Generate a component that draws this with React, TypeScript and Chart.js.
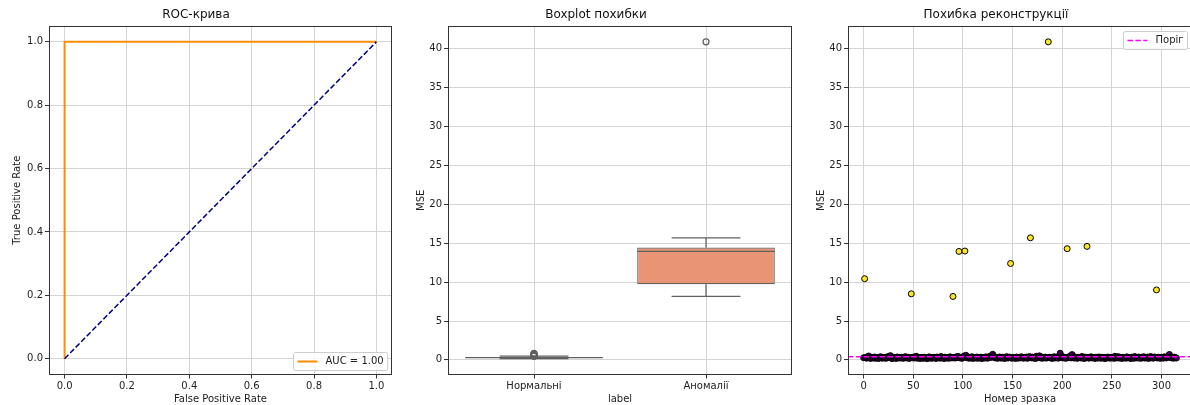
import React, { useEffect, useRef } from "react";
import { Chart, registerables } from "chart.js";

Chart.register(...registerables);

const FONT = "'DejaVu Sans', 'Liberation Sans', sans-serif";
const TEXT = "#222222";
const GRID = "#d4d4d4";
const SPINE = "#333333";
const BOX_LINE = "#606060";

// ---------- ROC panel ----------
const rocFpr = [0, 0, 1];
const rocTpr = [0, 1, 1];
const chanceFpr = [0, 1];
const chanceTpr = [0, 1];
const rocAuc = 1.0;
const rocTicks = [0, 0.2, 0.4, 0.6, 0.8, 1.0];

// ---------- Boxplot / scatter panels ----------
const groupLabels = ["Нормальні", "Аномалії"];
const groupColors = ["#71b7a1", "#e99575"];
const mseTicks = [0, 5, 10, 15, 20, 25, 30, 35, 40];
const sampleTicks = [0, 50, 100, 150, 200, 250, 300];
const anomalyIndex = [1, 48, 90, 96, 102, 148, 168, 186, 205, 225, 295];
const threshold = 0.4;
const reconErrors = [
  0.28, 10.44, 0.31, 0.22, 0.35, 0.5, 0.26, 0.19, 0.33, 0.29,
  0.24, 0.37, 0.21, 0.3, 0.27, 0.18, 0.34, 0.41, 0.25, 0.23,
  0.32, 0.28, 0.2, 0.36, 0.26, 0.44, 0.3, 0.55, 0.22, 0.17,
  0.29, 0.33, 0.24, 0.19, 0.38, 0.27, 0.31, 0.23, 0.35, 0.26,
  0.21, 0.3, 0.42, 0.25, 0.28, 0.34, 0.19, 0.32, 8.5, 0.27,
  0.36, 0.24, 0.29, 0.47, 0.22, 0.31, 0.26, 0.18, 0.33, 0.28,
  0.2, 0.35, 0.25, 0.3, 0.16, 0.27, 0.39, 0.23, 0.32, 0.21,
  0.29, 0.34, 0.24, 0.19, 0.37, 0.28, 0.31, 0.22, 0.43, 0.26,
  0.3, 0.18, 0.35, 0.27, 0.24, 0.33, 0.21, 0.4, 0.29, 0.25,
  8.16, 0.32, 0.23, 0.38, 0.28, 0.45, 13.95, 0.26, 0.34, 0.2,
  0.31, 0.48, 14.0, 0.6, 0.27, 0.36, 0.22, 0.3, 0.25, 0.41,
  0.19, 0.33, 0.28, 0.24, 0.37, 0.21, 0.3, 0.26, 0.35, 0.17,
  0.29, 0.32, 0.23, 0.39, 0.27, 0.22, 0.34, 0.46, 0.31, 0.52,
  0.72, 0.44, 0.28, 0.25, 0.33, 0.2, 0.3, 0.38, 0.26, 0.23,
  0.35, 0.29, 0.18, 0.31, 0.42, 0.24, 0.27, 0.36, 12.4, 0.21,
  0.32, 0.26, 0.3, 0.19, 0.37, 0.28, 0.23, 0.34, 0.25, 0.4,
  0.29, 0.22, 0.33, 0.27, 0.36, 0.2, 0.31, 0.43, 15.7, 0.26,
  0.35, 0.24, 0.3, 0.18, 0.47, 0.28, 0.33, 0.52, 0.25, 0.38,
  0.21, 0.31, 0.27, 0.36, 0.23, 0.29, 40.9, 0.34, 0.26, 0.32,
  0.19, 0.3, 0.41, 0.25, 0.28, 0.37, 0.22, 0.45, 0.85, 0.33,
  0.27, 0.39, 0.24, 0.3, 0.21, 14.3, 0.35, 0.28, 0.49, 0.26,
  0.68, 0.32, 0.23, 0.37, 0.29, 0.2, 0.34, 0.27, 0.31, 0.24,
  0.44, 0.3, 0.18, 0.36, 0.26, 14.6, 0.33, 0.22, 0.29, 0.4,
  0.25, 0.31, 0.27, 0.19, 0.35, 0.28, 0.23, 0.38, 0.3, 0.21,
  0.34, 0.26, 0.29, 0.17, 0.32, 0.24, 0.37, 0.28, 0.22, 0.33,
  0.27, 0.3, 0.2, 0.46, 0.25, 0.31, 0.42, 0.23, 0.36, 0.28,
  0.19, 0.34, 0.26, 0.3, 0.22, 0.39, 0.27, 0.32, 0.24, 0.18,
  0.35, 0.29, 0.21, 0.43, 0.26, 0.31, 0.24, 0.37, 0.28, 0.2,
  0.33, 0.27, 0.41, 0.23, 0.3, 0.25, 0.36, 0.19, 0.32, 0.44,
  0.26, 0.29, 0.22, 0.38, 0.31, 9.0, 0.24, 0.35, 0.27, 0.2,
  0.34, 0.28, 0.23, 0.4, 0.3, 0.25, 0.37, 0.52, 0.7, 0.33,
  0.26, 0.31, 0.22, 0.36, 0.28, 0.24,
];

// ---------- helpers ----------
function quantile(sorted: number[], p: number) {
  const pos = (sorted.length - 1) * p;
  const lo = Math.floor(pos);
  const hi = Math.ceil(pos);
  return sorted[lo] + (sorted[hi] - sorted[lo]) * (pos - lo);
}

function boxStats(vals: number[]) {
  const s = [...vals].sort((a, b) => a - b);
  const q1 = quantile(s, 0.25);
  const med = quantile(s, 0.5);
  const q3 = quantile(s, 0.75);
  const iqr = q3 - q1;
  const inside = s.filter((v) => v >= q1 - 1.5 * iqr && v <= q3 + 1.5 * iqr);
  const lo = inside[0];
  const hi = inside[inside.length - 1];
  const fliers = s.filter((v) => v < lo || v > hi);
  return { q1, med, q3, lo, hi, fliers };
}

const isAnomaly = reconErrors.map((_, i) => anomalyIndex.includes(i));
const normalVals = reconErrors.filter((_, i) => !isAnomaly[i]);
const anomalyVals = reconErrors.filter((_, i) => isAnomaly[i]);
const groupStats = [boxStats(normalVals), boxStats(anomalyVals)];

const errMin = Math.min(...reconErrors);
const errMax = Math.max(...reconErrors);
const errPad = (errMax - errMin) * 0.05;
const yMin = errMin - errPad;
const yMax = errMax + errPad;
const xLast = reconErrors.length - 1;

const tickFont = { family: FONT, size: 10 };

function linearAxis(
  min: number, max: number, ticks: number[], fmt: (v: number) => string,
  title: string, isX: boolean, size: number, titlePad: any
) {
  return {
    type: "linear",
    min,
    max,
    afterBuildTicks: (s: any) => {
      s.ticks = ticks.map((v) => ({ value: v }));
    },
    afterFit: (s: any) => {
      if (isX) s.height = size;
      else s.width = size;
    },
    ticks: {
      callback: (v: any) => fmt(Number(v)),
      color: TEXT,
      font: tickFont,
      padding: 2,
      maxRotation: 0,
      autoSkip: false,
    },
    grid: { color: GRID, lineWidth: 1, drawTicks: true, tickLength: 4, tickColor: SPINE, tickWidth: 1 },
    border: { display: false },
    title: { display: true, text: title, color: TEXT, font: tickFont, padding: titlePad },
  };
}

const framePlugin = {
  id: "frame",
  afterDatasetsDraw(chart: any) {
    const { ctx, chartArea } = chart;
    const l = Math.round(chartArea.left) + 0.5;
    const t = Math.round(chartArea.top) + 0.5;
    const r = Math.round(chartArea.right) - 0.5;
    const b = Math.round(chartArea.bottom) - 0.5;
    ctx.save();
    ctx.strokeStyle = SPINE;
    ctx.lineWidth = 1;
    ctx.setLineDash([]);
    ctx.strokeRect(l, t, r - l, b - t);
    ctx.restore();
  },
};

type LegendItem = { color: string; width: number; dash: number[]; text: string };

function boxLegend(pos: "upper right" | "lower right", items: LegendItem[]) {
  return {
    id: "boxLegend",
    afterDraw(chart: any) {
      const { ctx, chartArea } = chart;
      ctx.save();
      ctx.font = `10px ${FONT}`;
      const textW = Math.max(...items.map((it) => ctx.measureText(it.text).width));
      const pad = 4;
      const handle = 20;
      const gap = 8;
      const rowH = 13;
      const w = pad + handle + gap + textW + pad;
      const h = 5 + rowH * items.length;
      const x = Math.round(chartArea.right - 5 - w) + 0.5;
      const y =
        pos === "upper right"
          ? Math.round(chartArea.top + 5) + 0.5
          : Math.round(chartArea.bottom - 5 - h) + 0.5;
      ctx.beginPath();
      const rr = 2;
      ctx.moveTo(x + rr, y);
      ctx.lineTo(x + w - rr, y);
      ctx.quadraticCurveTo(x + w, y, x + w, y + rr);
      ctx.lineTo(x + w, y + h - rr);
      ctx.quadraticCurveTo(x + w, y + h, x + w - rr, y + h);
      ctx.lineTo(x + rr, y + h);
      ctx.quadraticCurveTo(x, y + h, x, y + h - rr);
      ctx.lineTo(x, y + rr);
      ctx.quadraticCurveTo(x, y, x + rr, y);
      ctx.closePath();
      ctx.fillStyle = "rgba(255,255,255,0.8)";
      ctx.fill();
      ctx.strokeStyle = "#cccccc";
      ctx.lineWidth = 1;
      ctx.stroke();
      items.forEach((it, i) => {
        const cy = y + 2.5 + rowH * i + rowH / 2;
        ctx.beginPath();
        ctx.setLineDash(it.dash);
        ctx.strokeStyle = it.color;
        ctx.lineWidth = it.width;
        ctx.moveTo(x + pad, cy);
        ctx.lineTo(x + pad + handle, cy);
        ctx.stroke();
        ctx.setLineDash([]);
        ctx.fillStyle = TEXT;
        ctx.textBaseline = "middle";
        ctx.textAlign = "left";
        ctx.fillText(it.text, x + pad + handle + gap, cy);
      });
      ctx.restore();
    },
  };
}

const boxWhiskerPlugin = {
  id: "boxWhisker",
  afterDatasetsDraw(chart: any) {
    const { ctx } = chart;
    const ys = chart.scales.y;
    const meta = chart.getDatasetMeta(0);
    const py = (v: number) => ys.getPixelForValue(v);
    ctx.save();
    ctx.strokeStyle = BOX_LINE;
    ctx.lineWidth = 1.25;
    const line = (x1: number, y1: number, x2: number, y2: number) => {
      ctx.beginPath();
      ctx.moveTo(x1, y1);
      ctx.lineTo(x2, y2);
      ctx.stroke();
    };
    groupStats.forEach((st, i) => {
      const el = meta.data[i];
      const cx = el.x;
      const half = el.width / 2;
      const capHalf = half / 2;
      line(cx, py(st.q1), cx, py(st.lo));
      line(cx, py(st.q3), cx, py(st.hi));
      line(cx - capHalf, py(st.lo), cx + capHalf, py(st.lo));
      line(cx - capHalf, py(st.hi), cx + capHalf, py(st.hi));
      line(cx - half, py(st.med), cx + half, py(st.med));
      st.fliers.forEach((v) => {
        ctx.beginPath();
        ctx.arc(cx, py(v), 3, 0, Math.PI * 2);
        ctx.stroke();
      });
    });
    ctx.restore();
  },
};

const thresholdPlugin = {
  id: "thresholdLine",
  afterDatasetsDraw(chart: any) {
    const { ctx, chartArea } = chart;
    const y = chart.scales.y.getPixelForValue(threshold);
    ctx.save();
    ctx.strokeStyle = "#ff00ff";
    ctx.lineWidth = 1.5;
    ctx.setLineDash([5.5, 2.4]);
    ctx.beginPath();
    ctx.moveTo(chartArea.left, y);
    ctx.lineTo(chartArea.right, y);
    ctx.stroke();
    ctx.restore();
  },
};

function titleOpts(text: string) {
  return {
    display: true,
    text,
    color: "#111111",
    font: { family: FONT, size: 12, weight: "normal" as const },
    padding: { top: 8, bottom: 3.6 },
  };
}

const X_AXIS_H = 30.5;

function buildRoc(canvas: HTMLCanvasElement) {
  return new Chart(canvas, {
    type: "scatter",
    data: {
      datasets: [
        {
          data: chanceFpr.map((x, i) => ({ x, y: chanceTpr[i] })),
          showLine: true,
          borderColor: "#000080",
          borderWidth: 1.5,
          borderDash: [5.5, 2.4],
          pointRadius: 0,
          order: 0,
        },
        {
          data: rocFpr.map((x, i) => ({ x, y: rocTpr[i] })),
          showLine: true,
          borderColor: "#ff8c00",
          borderWidth: 2,
          pointRadius: 0,
          order: 1,
        },
      ],
    },
    options: {
      animation: false,
      responsive: false,
      devicePixelRatio: 1,
      layout: { padding: { left: 0, right: 8, top: 0, bottom: 0 } },
      plugins: { legend: { display: false }, tooltip: { enabled: false }, title: titleOpts("ROC-крива") },
      scales: {
        x: linearAxis(-0.05, 1.05, rocTicks, (v) => v.toFixed(1), "False Positive Rate", true, X_AXIS_H, { top: 0, bottom: 0 }),
        y: linearAxis(-0.05, 1.05, rocTicks, (v) => v.toFixed(1), "True Positive Rate", false, 49, { top: 11, bottom: 0 }),
      },
    } as any,
    plugins: [
      framePlugin,
      boxLegend("lower right", [{ color: "#ff8c00", width: 2, dash: [], text: `AUC = ${rocAuc.toFixed(2)}` }]),
    ],
  });
}

function buildBox(canvas: HTMLCanvasElement) {
  return new Chart(canvas, {
    type: "bar",
    data: {
      labels: groupLabels,
      datasets: [
        {
          data: groupStats.map((s) => [s.q1, s.q3]),
          backgroundColor: groupColors,
          borderColor: BOX_LINE,
          borderWidth: 1.25,
          borderSkipped: false,
          barPercentage: 0.8,
          categoryPercentage: 1.0,
        },
      ],
    },
    options: {
      animation: false,
      responsive: false,
      devicePixelRatio: 1,
      layout: { padding: { left: 0, right: 8, top: 0, bottom: 0 } },
      plugins: { legend: { display: false }, tooltip: { enabled: false }, title: titleOpts("Boxplot похибки") },
      scales: {
        x: {
          type: "category",
          offset: true,
          afterFit: (s: any) => {
            s.height = X_AXIS_H;
          },
          ticks: { color: TEXT, font: tickFont, padding: 2, maxRotation: 0 },
          grid: { offset: false, color: GRID, lineWidth: 1, drawTicks: true, tickLength: 4, tickColor: SPINE, tickWidth: 1 },
          border: { display: false },
          title: { display: true, text: "label", color: TEXT, font: tickFont, padding: { top: 0, bottom: 0 } },
        },
        y: linearAxis(yMin, yMax, mseTicks, (v) => String(v), "MSE", false, 48, { top: 15, bottom: 0 }),
      },
    } as any,
    plugins: [boxWhiskerPlugin, framePlugin],
  });
}

function buildScatter(canvas: HTMLCanvasElement) {
  const pts = reconErrors.map((y, x) => ({ x, y }));
  return new Chart(canvas, {
    type: "scatter",
    data: {
      datasets: [
        {
          data: pts.filter((_, i) => !isAnomaly[i]),
          backgroundColor: "#440154",
          borderColor: "#000000",
          borderWidth: 1,
          pointRadius: 3,
          order: 1,
        },
        {
          data: pts.filter((_, i) => isAnomaly[i]),
          backgroundColor: "#fde725",
          borderColor: "#000000",
          borderWidth: 1,
          pointRadius: 3,
          order: 0,
        },
      ],
    },
    options: {
      animation: false,
      responsive: false,
      devicePixelRatio: 1,
      layout: { padding: { left: 0, right: 8, top: 0, bottom: 0 } },
      plugins: { legend: { display: false }, tooltip: { enabled: false }, title: titleOpts("Похибка реконструкції") },
      scales: {
        x: linearAxis(-xLast * 0.05, xLast * 1.05, sampleTicks, (v) => String(v), "Номер зразка", true, X_AXIS_H, { top: 0, bottom: 0 }),
        y: linearAxis(yMin, yMax, mseTicks, (v) => String(v), "MSE", false, 48, { top: 15, bottom: 0 }),
      },
    } as any,
    plugins: [
      thresholdPlugin,
      framePlugin,
      boxLegend("upper right", [{ color: "#ff00ff", width: 1.5, dash: [5.5, 2.4], text: "Поріг" }]),
    ],
  });
}

export default function App() {
  const r1 = useRef<HTMLCanvasElement>(null);
  const r2 = useRef<HTMLCanvasElement>(null);
  const r3 = useRef<HTMLCanvasElement>(null);

  useEffect(() => {
    Chart.defaults.font.family = FONT;
    const c1 = buildRoc(r1.current!);
    const c2 = buildBox(r2.current!);
    const c3 = buildScatter(r3.current!);
    return () => {
      c1.destroy();
      c2.destroy();
      c3.destroy();
    };
  }, []);

  const cs: React.CSSProperties = { position: "absolute", top: 0 };
  return (
    <div
      style={{
        position: "fixed",
        left: 0,
        top: 0,
        width: 1190,
        height: 405,
        overflow: "hidden",
        background: "#ffffff",
      }}
    >
      <canvas ref={r1} width={400} height={405} style={{ ...cs, left: 0 }} />
      <canvas ref={r2} width={400} height={405} style={{ ...cs, left: 400 }} />
      <canvas ref={r3} width={400} height={405} style={{ ...cs, left: 800 }} />
    </div>
  );
}
